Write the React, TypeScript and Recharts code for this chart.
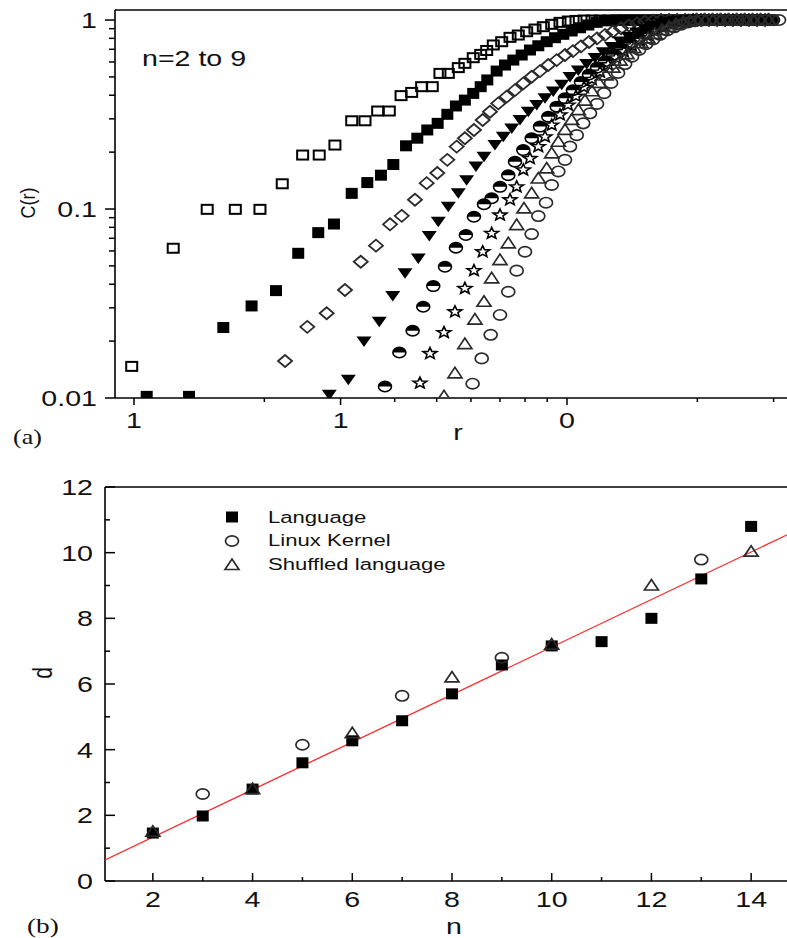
import { ScatterChart, Scatter, XAxis, YAxis, Legend } from "recharts";

const SANS = "'Liberation Sans', Arial, Helvetica, sans-serif";
const SERIF = "'Liberation Serif', 'Times New Roman', serif";
const INK = "#111";

// ---------- (a) correlation sum C(r), pairs of [r, C] for n = 2..9 ----------
const cN2 = [
  [0.0988, 0.0147], [0.1232, 0.062], [0.1476, 0.0996], [0.1714, 0.0996], [0.1954, 0.0996],
  [0.22, 0.136], [0.2452, 0.193], [0.2678, 0.193], [0.2911, 0.218], [0.3183, 0.293],
  [0.3416, 0.293], [0.3654, 0.33], [0.3887, 0.33], [0.4138, 0.398], [0.4378, 0.414],
  [0.4617, 0.444], [0.4885, 0.444], [0.5088, 0.522], [0.532, 0.522], [0.561, 0.56],
  [0.581, 0.59], [0.6074, 0.632], [0.632, 0.658], [0.6524, 0.69], [0.6757, 0.738],
  [0.7066, 0.768], [0.7386, 0.81], [0.7718, 0.833], [0.807, 0.867], [0.8435, 0.896],
  [0.8816, 0.922], [0.9219, 0.949], [0.9634, 0.972], [1.007, 0.988], [1.049, 0.995],
  [1.095, 1], [1.142, 1], [1.192, 1], [1.244, 1], [1.298, 1], [1.354, 1], [1.413, 1],
  [1.475, 1], [1.539, 1], [1.606, 1], [1.676, 1], [1.748, 1], [1.825, 1], [1.904, 1],
  [1.987, 1], [2.073, 1], [2.163, 1], [2.257, 1], [2.355, 1], [2.458, 1], [2.565, 1],
  [2.676, 1], [2.793, 1], [2.914, 1],
];
const cN3 = [
  [0.107, 0.0102], [0.134, 0.0102], [0.1608, 0.0236], [0.1869, 0.0307], [0.2128, 0.037],
  [0.2395, 0.0583], [0.2664, 0.075], [0.2896, 0.0833], [0.3183, 0.121], [0.3458, 0.138],
  [0.3718, 0.151], [0.3971, 0.172], [0.4249, 0.216], [0.4511, 0.237], [0.4757, 0.262],
  [0.5027, 0.284], [0.5292, 0.317], [0.554, 0.351], [0.581, 0.377], [0.6074, 0.409],
  [0.632, 0.444], [0.6545, 0.482], [0.6879, 0.537], [0.7191, 0.578], [0.7516, 0.614],
  [0.7859, 0.653], [0.8212, 0.694], [0.8585, 0.731], [0.8977, 0.768], [0.9382, 0.806],
  [0.9806, 0.84], [1.025, 0.875], [1.072, 0.91], [1.12, 0.941], [1.171, 0.972],
  [1.224, 0.99], [1.271, 0.997], [1.326, 1], [1.384, 1], [1.444, 1], [1.506, 1],
  [1.572, 1], [1.64, 1], [1.712, 1], [1.786, 1], [1.864, 1], [1.945, 1], [2.029, 1],
  [2.118, 1], [2.21, 1], [2.306, 1], [2.406, 1], [2.511, 1], [2.62, 1], [2.734, 1],
  [2.853, 1], [2.977, 1],
];
const cN4 = [
  [0.2233, 0.0157], [0.2513, 0.0238], [0.2786, 0.0281], [0.3071, 0.0373], [0.334, 0.0526],
  [0.3621, 0.064], [0.3902, 0.083], [0.4153, 0.092], [0.4456, 0.112], [0.4742, 0.137],
  [0.5017, 0.155], [0.5292, 0.182], [0.5561, 0.214], [0.581, 0.237], [0.6097, 0.262],
  [0.6387, 0.296], [0.6639, 0.327], [0.694, 0.362], [0.7255, 0.393], [0.7584, 0.426],
  [0.7926, 0.462], [0.8287, 0.501], [0.8662, 0.537], [0.9054, 0.578], [0.9467, 0.614],
  [0.9894, 0.653], [1.032, 0.685], [1.077, 0.725], [1.124, 0.765], [1.173, 0.8],
  [1.224, 0.835], [1.277, 0.87], [1.333, 0.905], [1.391, 0.935], [1.451, 0.96],
  [1.514, 0.98], [1.58, 0.993], [1.649, 1], [1.721, 1], [1.796, 1], [1.874, 1],
  [1.955, 1], [2.04, 1], [2.128, 1], [2.222, 1], [2.318, 1], [2.417, 1], [2.523, 1],
  [2.632, 1], [2.748, 1], [2.867, 1],
];
const cN5 = [
  [0.2825, 0.0104], [0.3126, 0.0125], [0.3398, 0.0199], [0.3685, 0.0253], [0.3959, 0.0347],
  [0.4226, 0.0457], [0.4535, 0.0548], [0.4808, 0.072], [0.5043, 0.0857], [0.532, 0.1028],
  [0.561, 0.121], [0.5863, 0.142], [0.6162, 0.168], [0.6431, 0.189], [0.6817, 0.218],
  [0.7127, 0.241], [0.7453, 0.267], [0.7789, 0.296], [0.8141, 0.327], [0.8511, 0.355],
  [0.8896, 0.385], [0.9297, 0.418], [0.9722, 0.455], [1.016, 0.5], [1.062, 0.54],
  [1.11, 0.585], [1.161, 0.63], [1.213, 0.675], [1.268, 0.72], [1.326, 0.77],
  [1.386, 0.815], [1.449, 0.86], [1.514, 0.895], [1.582, 0.93], [1.655, 0.96],
  [1.729, 0.98], [1.807, 0.99], [1.89, 1], [1.976, 1], [2.065, 1], [2.16, 1],
  [2.257, 1], [2.359, 1], [2.466, 1], [2.578, 1], [2.693, 1], [2.818, 1], [2.944, 1],
];
const cN6 = [
  [0.3799, 0.0115], [0.4101, 0.0174], [0.4401, 0.0227], [0.4656, 0.0304], [0.4911, 0.0391],
  [0.5227, 0.0495], [0.554, 0.0624], [0.5841, 0.0728], [0.6097, 0.091], [0.6431, 0.106],
  [0.6699, 0.114], [0.7003, 0.131], [0.7318, 0.151], [0.7584, 0.178], [0.7926, 0.205],
  [0.8287, 0.237], [0.8662, 0.273], [0.9054, 0.308], [0.9467, 0.348], [0.9894, 0.385],
  [1.032, 0.425], [1.077, 0.47], [1.124, 0.515], [1.173, 0.56], [1.224, 0.605],
  [1.277, 0.655], [1.333, 0.705], [1.391, 0.755], [1.451, 0.8], [1.514, 0.845],
  [1.58, 0.89], [1.649, 0.93], [1.721, 0.96], [1.796, 0.98], [1.874, 0.992],
  [1.955, 1], [2.04, 1], [2.128, 1], [2.222, 1], [2.318, 1], [2.417, 1], [2.523, 1],
  [2.632, 1], [2.748, 1], [2.867, 1], [2.991, 1],
];
const cN7 = [
  [0.4575, 0.012], [0.4826, 0.0172], [0.5199, 0.0222], [0.5511, 0.0286], [0.581, 0.038],
  [0.6097, 0.0472], [0.6387, 0.0594], [0.6699, 0.0743], [0.7003, 0.093], [0.7386, 0.112],
  [0.7652, 0.131], [0.7926, 0.161], [0.8212, 0.185], [0.8585, 0.214], [0.8896, 0.241],
  [0.9219, 0.278], [0.9635, 0.315], [1.005, 0.355], [1.049, 0.395], [1.095, 0.44],
  [1.142, 0.485], [1.192, 0.53], [1.244, 0.58], [1.298, 0.63], [1.354, 0.68],
  [1.413, 0.73], [1.475, 0.78], [1.539, 0.83], [1.606, 0.875], [1.676, 0.915],
  [1.748, 0.95], [1.825, 0.97], [1.904, 0.99], [1.987, 1], [2.073, 1], [2.163, 1],
  [2.257, 1], [2.355, 1], [2.458, 1], [2.565, 1], [2.676, 1], [2.793, 1], [2.914, 1],
];
const cN8 = [
  [0.5199, 0.0102], [0.5511, 0.0135], [0.581, 0.0193], [0.6129, 0.026], [0.6431, 0.0323],
  [0.6699, 0.043], [0.7003, 0.0537], [0.7318, 0.0658], [0.7652, 0.0822], [0.7955, 0.1007],
  [0.8287, 0.121], [0.8585, 0.145], [0.8977, 0.164], [0.9219, 0.197], [0.9548, 0.227],
  [0.9894, 0.262], [1.025, 0.296], [1.062, 0.334], [1.1, 0.375], [1.142, 0.42],
  [1.185, 0.465], [1.231, 0.51], [1.277, 0.56], [1.326, 0.61], [1.376, 0.66],
  [1.428, 0.71], [1.483, 0.755], [1.539, 0.8], [1.597, 0.845], [1.658, 0.885],
  [1.721, 0.92], [1.786, 0.95], [1.854, 0.975], [1.924, 0.99], [1.997, 1], [2.084, 1],
  [2.174, 1], [2.269, 1], [2.368, 1], [2.47, 1], [2.578, 1], [2.689, 1], [2.806, 1],
  [2.929, 1],
];
const cN9 = [
  [0.6054, 0.0119], [0.6353, 0.0162], [0.6664, 0.0216], [0.7003, 0.0275], [0.7318, 0.0365],
  [0.7652, 0.0472], [0.7998, 0.0594], [0.8287, 0.0737], [0.8585, 0.0918], [0.8944, 0.108],
  [0.9219, 0.134], [0.9548, 0.158], [0.9894, 0.182], [1.016, 0.214], [1.053, 0.246],
  [1.09, 0.284], [1.13, 0.321], [1.173, 0.36], [1.218, 0.41], [1.264, 0.465],
  [1.312, 0.525], [1.362, 0.585], [1.413, 0.64], [1.467, 0.695], [1.522, 0.745],
  [1.58, 0.79], [1.64, 0.835], [1.703, 0.88], [1.767, 0.915], [1.834, 0.945],
  [1.904, 0.97], [1.976, 0.985], [2.05, 0.995], [2.128, 1], [2.21, 1], [2.293, 1],
  [2.381, 1], [2.47, 1], [2.565, 1], [2.661, 1], [2.761, 1], [2.867, 1], [2.977, 1],
  [3.088, 1],
];

const rTicks = [0.1, 0.2, 0.3, 0.4, 0.5, 0.6, 0.7, 0.8, 0.9, 1, 2, 3];
const rTickLabels: Record<string, string> = { "0.1": "1", "0.3": "1", "1": "0" };
const cTicks = [
  0.01, 0.02, 0.03, 0.04, 0.05, 0.06, 0.07, 0.08, 0.09,
  0.1, 0.2, 0.3, 0.4, 0.5, 0.6, 0.7, 0.8, 0.9, 1,
];
const cTickLabels: Record<string, string> = { "0.01": "0.01", "0.1": "0.1", "1": "1" };

// ---------- (b) dimension d against n ----------
const nLanguage = [2, 3, 4, 5, 6, 7, 8, 9, 10, 11, 12, 13, 14];
const dLanguage = [1.46, 1.98, 2.8, 3.6, 4.27, 4.88, 5.7, 6.58, 7.16, 7.29, 8.0, 9.2, 10.8];
const nKernel = [3, 5, 7, 9, 13];
const dKernel = [2.65, 4.15, 5.64, 6.8, 9.79];
const nShuffled = [2, 4, 6, 8, 10, 12, 14];
const dShuffled = [1.5, 2.8, 4.5, 6.2, 7.2, 9.0, 10.03];
const nFit = [1.04, 14.98];
const dFit = [0.64, 10.73];

const nTicks = [2, 3, 4, 5, 6, 7, 8, 9, 10, 11, 12, 13, 14];
const nTickLabels: Record<string, string> = {
  "2": "2", "4": "4", "6": "6", "8": "8", "10": "10", "12": "12", "14": "14",
};
const dTicks = [0, 1, 2, 3, 4, 5, 6, 7, 8, 9, 10, 11, 12];
const dTickLabels: Record<string, string> = {
  "0": "0", "2": "2", "4": "4", "6": "6", "8": "8", "10": "10", "12": "12",
};

const toRC = (pts: number[][]) => pts.map(([r, c]) => ({ r, c }));
const toND = (ns: number[], ds: number[]) => ns.map((n, i) => ({ n, d: ds[i] }));

// the scanned figure is stretched sideways, so text is too
const SText = ({ x, y, anchor = "middle", size = 22, family = SANS, children }: any) => {
  const origin = anchor === "end" ? "right" : anchor === "start" ? "left" : "center";
  return (
    <text
      x={x}
      y={y}
      textAnchor={anchor}
      fontSize={size}
      fontFamily={family}
      fill={INK}
      style={{ transform: "scaleX(1.3)", transformBox: "fill-box", transformOrigin: `${origin} center` }}
    >
      {children}
    </text>
  );
};

// markers
const OpenSquare = ({ cx, cy }: any) => (
  <rect x={cx - 5.5} y={cy - 4.5} width={11} height={9} fill="none" stroke="#000" strokeWidth={2} />
);
const FilledSquare = ({ cx, cy }: any) => (
  <rect x={cx - 6} y={cy - 5.5} width={12} height={11} fill="#000" />
);
const OpenDiamond = ({ cx, cy }: any) => (
  <polygon
    points={`${cx - 7},${cy} ${cx},${cy - 6} ${cx + 7},${cy} ${cx},${cy + 6}`}
    fill="none"
    stroke="#2a2a2a"
    strokeWidth={1.8}
  />
);
const DownTriangle = ({ cx, cy }: any) => (
  <polygon points={`${cx - 7.5},${cy - 5} ${cx + 7.5},${cy - 5} ${cx},${cy + 5.5}`} fill="#000" />
);
const HalfCircle = ({ cx, cy }: any) => (
  <g>
    <path d={`M${cx - 6.5},${cy} A6.5,5.2 0 0 1 ${cx + 6.5},${cy} Z`} fill="#000" />
    <ellipse cx={cx} cy={cy} rx={6.5} ry={5.2} fill="none" stroke="#000" strokeWidth={1.6} />
  </g>
);
const Star = ({ cx, cy }: any) => {
  const pts: string[] = [];
  for (let i = 0; i < 10; i++) {
    const rad = i % 2 === 0 ? 6 : 2.6;
    const a = -Math.PI / 2 + (i * Math.PI) / 5;
    pts.push(`${cx + rad * 1.2 * Math.cos(a)},${cy + rad * Math.sin(a)}`);
  }
  return <polygon points={pts.join(" ")} fill="none" stroke="#000" strokeWidth={1.6} />;
};
const OpenTriangle = ({ cx, cy }: any) => (
  <polygon
    points={`${cx - 7},${cy + 4.5} ${cx + 7},${cy + 4.5} ${cx},${cy - 6}`}
    fill="none"
    stroke="#2a2a2a"
    strokeWidth={1.7}
  />
);
const OpenCircle = ({ cx, cy }: any) => (
  <ellipse cx={cx} cy={cy} rx={6.5} ry={5.2} fill="none" stroke="#2a2a2a" strokeWidth={1.7} />
);
const NoDot = () => <g />;

const seriesA = [
  { name: "n=2", data: cN2, shape: OpenSquare },
  { name: "n=3", data: cN3, shape: FilledSquare },
  { name: "n=4", data: cN4, shape: OpenDiamond },
  { name: "n=5", data: cN5, shape: DownTriangle },
  { name: "n=6", data: cN6, shape: HalfCircle },
  { name: "n=7", data: cN7, shape: Star },
  { name: "n=8", data: cN8, shape: OpenTriangle },
  { name: "n=9", data: cN9, shape: OpenCircle },
];

// ticks drawn by hand so minor/major lengths and directions match the scan
// len > 0 points into the plot, len < 0 points outward
const makeTick =
  (side: "left" | "bottom" | "top", labels: Record<string, string>, majorLen: number, minorLen: number, gap = 0) =>
  (props: any) => {
    const { x, y, payload } = props;
    const label = labels[String(payload.value)];
    const len = label ? majorLen : minorLen;
    if (side === "left") {
      return (
        <g>
          <line x1={x} y1={y} x2={x + len} y2={y} stroke="#000" strokeWidth={1.5} />
          {label && (
            <SText x={x - gap} y={y + 8} anchor="end">
              {label}
            </SText>
          )}
        </g>
      );
    }
    const dir = side === "bottom" ? -1 : 1;
    return (
      <g>
        <line x1={x} y1={y} x2={x} y2={y + dir * len} stroke="#000" strokeWidth={1.5} />
        {label && side === "bottom" && <SText x={x} y={y + gap}>{label}</SText>}
      </g>
    );
  };

const AXIS = { stroke: "#000", strokeWidth: 1.6 };
const R_DOMAIN = [0.0904, 3.452];
const C_DOMAIN = [0.01, 1.13];
const N_DOMAIN = [1.04, 14.98];
const D_DOMAIN = [0, 12];

const PanelA = () => (
  <ScatterChart width={800} height={450} margin={{ top: 0, right: 0, bottom: 0, left: 0 }}>
    <XAxis
      xAxisId="top"
      orientation="top"
      type="number"
      scale="log"
      domain={R_DOMAIN}
      allowDataOverflow
      ticks={rTicks}
      interval={0}
      height={10}
      tickSize={0}
      tickMargin={0}
      tickLine={false}
      axisLine={AXIS}
      tick={makeTick("top", {}, 5, 5)}
    />
    <XAxis
      dataKey="r"
      type="number"
      scale="log"
      domain={R_DOMAIN}
      allowDataOverflow
      ticks={rTicks}
      interval={0}
      height={52}
      tickSize={0}
      tickMargin={0}
      tickLine={false}
      axisLine={AXIS}
      tick={makeTick("bottom", rTickLabels, -7, -4, 30)}
    />
    <YAxis
      dataKey="c"
      type="number"
      scale="log"
      domain={C_DOMAIN}
      allowDataOverflow
      ticks={cTicks}
      interval={0}
      width={115}
      tickSize={0}
      tickMargin={0}
      tickLine={false}
      axisLine={AXIS}
      tick={makeTick("left", cTickLabels, -10, -6, 18)}
    />
    {seriesA.map((s) => (
      <Scatter key={s.name} name={s.name} data={toRC(s.data)} shape={s.shape} isAnimationActive={false} />
    ))}
    <SText x={142} y={66} anchor="start">
      n=2 to 9
    </SText>
    <text transform="translate(35,203) scale(1.15,1) rotate(-90)" textAnchor="middle" fontSize={18} fontFamily={SANS} fill={INK}>
      C(r)
    </text>
    <SText x={458} y={440}>
      r
    </SText>
    <SText x={13} y={444} anchor="start" family={SERIF} size={20}>
      (a)
    </SText>
  </ScatterChart>
);

const legendRows = [
  { label: "Language", shape: FilledSquare },
  { label: "Linux Kernel", shape: OpenCircle },
  { label: "Shuffled language", shape: OpenTriangle },
];

const PanelBLegend = () => (
  <svg width={260} height={75}>
    {legendRows.map((row, i) => {
      const Shape = row.shape;
      return (
        <g key={row.label}>
          <Shape cx={12} cy={10 + i * 24} />
          <SText x={48} y={16 + i * 23.5} anchor="start" size={17}>
            {row.label}
          </SText>
        </g>
      );
    })}
  </svg>
);

const PanelB = () => (
  <ScatterChart width={800} height={468} margin={{ top: 7, right: 0, bottom: 0, left: 0 }}>
    <XAxis
      xAxisId="top"
      orientation="top"
      type="number"
      domain={N_DOMAIN}
      allowDataOverflow
      ticks={nTicks}
      interval={0}
      height={10}
      tickSize={0}
      tickMargin={0}
      tickLine={false}
      axisLine={AXIS}
      tick={makeTick("top", nTickLabels, 8, 4)}
    />
    <XAxis
      dataKey="n"
      type="number"
      domain={N_DOMAIN}
      allowDataOverflow
      ticks={nTicks}
      interval={0}
      height={57}
      tickSize={0}
      tickMargin={0}
      tickLine={false}
      axisLine={AXIS}
      tick={makeTick("bottom", nTickLabels, 8, 4, 26)}
    />
    <YAxis
      dataKey="d"
      type="number"
      domain={D_DOMAIN}
      allowDataOverflow
      ticks={dTicks}
      interval={0}
      width={105}
      tickSize={0}
      tickMargin={0}
      tickLine={false}
      axisLine={AXIS}
      tick={makeTick("left", dTickLabels, 10, 5, 12)}
    />
    <Scatter
      name="fit"
      data={toND(nFit, dFit)}
      line={{ stroke: "#ff2a2a", strokeWidth: 1.3 }}
      shape={NoDot}
      isAnimationActive={false}
    />
    <Scatter name="Language" data={toND(nLanguage, dLanguage)} shape={FilledSquare} isAnimationActive={false} />
    <Scatter name="Linux Kernel" data={toND(nKernel, dKernel)} shape={OpenCircle} isAnimationActive={false} />
    <Scatter name="Shuffled language" data={toND(nShuffled, dShuffled)} shape={OpenTriangle} isAnimationActive={false} />
    <Legend
      layout="vertical"
      align="center"
      verticalAlign="middle"
      wrapperStyle={{ left: 220, top: 37, width: 260, height: 75 }}
      content={() => <PanelBLegend />}
    />
    <text transform="translate(52,203) scale(1.3,1) rotate(-90)" textAnchor="middle" fontSize={21} fontFamily={SANS} fill={INK}>
      d
    </text>
    <SText x={454} y={464}>
      n
    </SText>
    <SText x={27} y={463} anchor="start" family={SERIF} size={21}>
      (b)
    </SText>
  </ScatterChart>
);

export default function App() {
  return (
    <div
      style={{
        position: "absolute",
        left: 0,
        top: 0,
        width: 787,
        height: 938,
        overflow: "hidden",
        background: "#fff",
      }}
    >
      <div style={{ position: "absolute", left: 0, top: 0 }}>
        <PanelA />
      </div>
      <div style={{ position: "absolute", left: 0, top: 470 }}>
        <PanelB />
      </div>
    </div>
  );
}
